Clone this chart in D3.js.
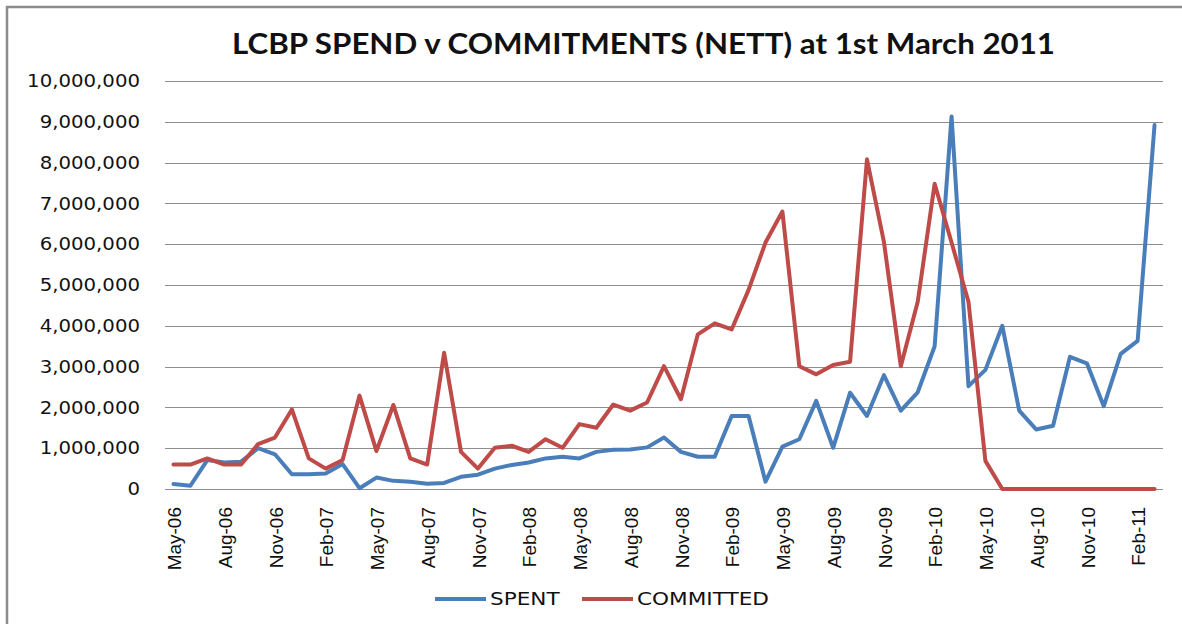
<!DOCTYPE html>
<html>
<head>
<meta charset="utf-8">
<script src="https://cdn.jsdelivr.net/npm/d3@7"></script>
<style>
  body { margin: 0; background: #fff; }
  svg { display: block; }
</style>
</head>
<body>
<div id="chart"></div>
<script>
const months = [
  'May-06','Jun-06','Jul-06','Aug-06','Sep-06','Oct-06','Nov-06','Dec-06',
  'Jan-07','Feb-07','Mar-07','Apr-07','May-07','Jun-07','Jul-07','Aug-07','Sep-07','Oct-07','Nov-07','Dec-07',
  'Jan-08','Feb-08','Mar-08','Apr-08','May-08','Jun-08','Jul-08','Aug-08','Sep-08','Oct-08','Nov-08','Dec-08',
  'Jan-09','Feb-09','Mar-09','Apr-09','May-09','Jun-09','Jul-09','Aug-09','Sep-09','Oct-09','Nov-09','Dec-09',
  'Jan-10','Feb-10','Mar-10','Apr-10','May-10','Jun-10','Jul-10','Aug-10','Sep-10','Oct-10','Nov-10','Dec-10',
  'Jan-11','Feb-11','Mar-11'
];

const spent = [
  120000, 80000, 710000, 650000, 670000, 1000000, 850000, 360000,
  360000, 380000, 610000, 20000, 280000, 200000, 180000, 130000, 150000, 300000, 350000, 500000,
  590000, 650000, 750000, 790000, 750000, 910000, 960000, 970000, 1020000, 1260000, 910000, 790000,
  790000, 1790000, 1790000, 180000, 1040000, 1220000, 2160000, 1010000, 2360000, 1790000, 2790000, 1920000,
  2370000, 3500000, 9130000, 2520000, 2920000, 4000000, 1920000, 1460000, 1550000, 3240000, 3080000, 2030000,
  3310000, 3630000, 8920000
];

const committed = [
  600000, 600000, 750000, 600000, 600000, 1100000, 1260000, 1950000,
  750000, 500000, 710000, 2290000, 930000, 2060000, 750000, 600000, 3340000, 910000, 500000, 1010000,
  1060000, 910000, 1220000, 1010000, 1590000, 1500000, 2070000, 1920000, 2120000, 3010000, 2200000, 3790000,
  4060000, 3910000, 4880000, 6040000, 6800000, 3010000, 2810000, 3040000, 3120000, 8080000, 6060000, 3010000,
  4590000, 7480000, 6040000, 4590000, 690000, 0, 0, 0, 0, 0, 0, 0,
  0, 0, 0
];

const yTicks = [0, 1e6, 2e6, 3e6, 4e6, 5e6, 6e6, 7e6, 8e6, 9e6, 10e6];

const seriesNames = ['SPENT', 'COMMITTED'];
const seriesColors = ['#4a7ebb', '#be4b48'];

const width = 1182, height = 624;
const plot = { left: 165, right: 1163, top: 81, bottom: 489 };

const svg = d3.select('#chart').append('svg')
  .attr('width', width)
  .attr('height', height);

// outer chart border (runs off the right/bottom of the picture)
svg.append('rect')
  .attr('x', 7).attr('y', 7)
  .attr('width', width + 20).attr('height', height + 20)
  .attr('fill', 'none')
  .attr('stroke', '#8c8c8c')
  .attr('stroke-width', 2.5);

const x = d3.scalePoint()
  .domain(months)
  .range([plot.left, plot.right])
  .padding(0.5);

const y = d3.scaleLinear()
  .domain([0, 10e6])
  .range([plot.bottom, plot.top]);

// gridlines
svg.append('g')
  .selectAll('line')
  .data(yTicks)
  .enter()
  .append('line')
  .attr('x1', plot.left).attr('x2', plot.right)
  .attr('y1', d => Math.round(y(d)) + 0.5)
  .attr('y2', d => Math.round(y(d)) + 0.5)
  .attr('stroke', '#8e8e8e')
  .attr('stroke-width', 1);

// y labels (slightly wide, like the source)
const fmt = d3.format(',');
svg.append('g')
  .selectAll('text')
  .data(yTicks)
  .enter()
  .append('text')
  .attr('transform', d => `translate(140, ${y(d)}) scale(1.16, 1)`)
  .attr('dy', '0.36em')
  .attr('text-anchor', 'end')
  .attr('font-family', 'DejaVu Sans, Verdana, sans-serif')
  .attr('font-size', 17)
  .attr('fill', '#111')
  .text(d => fmt(d));

// x labels, every third month
svg.append('g')
  .selectAll('text')
  .data(months.filter((m, i) => i % 3 === 0))
  .enter()
  .append('text')
  .attr('transform', d => `translate(${x(d) + 1}, 507) rotate(-90)`)
  .attr('dy', '0.35em')
  .attr('text-anchor', 'end')
  .attr('font-family', 'Liberation Sans, Arial, sans-serif')
  .attr('font-size', 19)
  .attr('fill', '#111')
  .text(d => d);

// lines
const line = d3.line()
  .x((d, i) => x(months[i]))
  .y(d => y(d));

[spent, committed].forEach((vals, k) => {
  svg.append('path')
    .datum(vals)
    .attr('d', line)
    .attr('fill', 'none')
    .attr('stroke', seriesColors[k])
    .attr('stroke-width', 4)
    .attr('stroke-linejoin', 'round')
    .attr('stroke-linecap', 'round');
});

// title
svg.append('text')
  .attr('x', 232)
  .attr('y', 54)
  .attr('textLength', 823)
  .attr('lengthAdjust', 'spacingAndGlyphs')
  .attr('font-family', 'Lato, sans-serif')
  .attr('font-weight', 'bold')
  .attr('font-size', 28)
  .attr('fill', '#111')
  .text('LCBP SPEND v COMMITMENTS (NETT) at 1st March 2011');

// legend
const legendX = [435, 582];
const legend = svg.append('g')
  .selectAll('g')
  .data(seriesNames)
  .enter()
  .append('g')
  .attr('transform', (d, i) => `translate(${legendX[i]}, 599)`);

legend.append('line')
  .attr('x1', 0).attr('x2', 51)
  .attr('y1', 0).attr('y2', 0)
  .attr('stroke', (d, i) => seriesColors[i])
  .attr('stroke-width', 4);

legend.append('text')
  .attr('transform', 'translate(55, 0) scale(1.27, 1)')
  .attr('dy', '0.36em')
  .attr('font-family', 'DejaVu Sans, Verdana, sans-serif')
  .attr('font-size', 17)
  .attr('fill', '#111')
  .text(d => d);
</script>
</body>
</html>
